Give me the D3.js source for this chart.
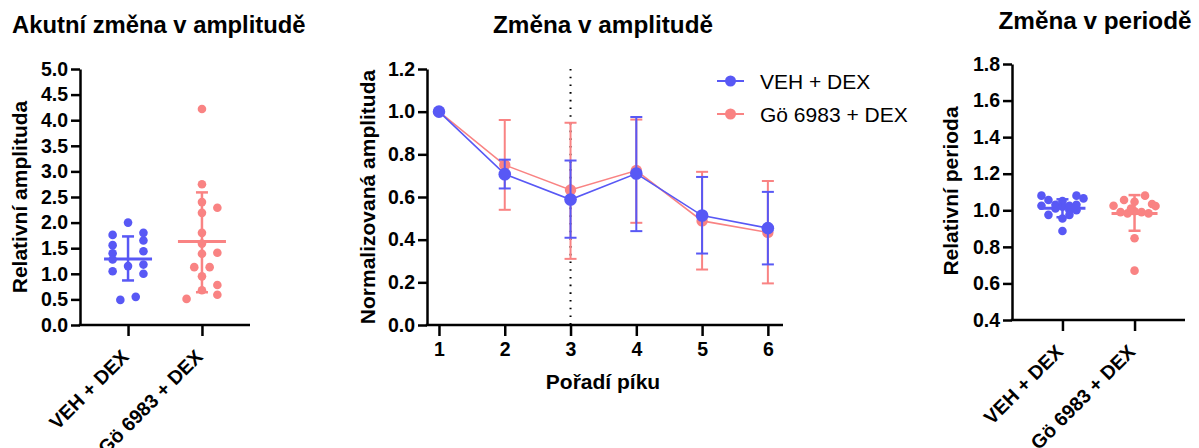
<!DOCTYPE html>
<html>
<head>
<meta charset="utf-8">
<script src="https://cdn.jsdelivr.net/npm/d3@7"></script>
<style>
  html, body { margin: 0; padding: 0; background: #fff; }
  svg { display: block; }
  text { font-family: "Liberation Sans", Arial, sans-serif; fill: #000; }
</style>
</head>
<body>
<svg id="chart" width="1199" height="448"></svg>
<script>
// ---------- DATA ----------
const groupLabels = ["VEH + DEX", "Gö 6983 + DEX"];

// Panel 1: Akutní změna v amplitudě
const ampVeh      = [2.00, 1.76, 1.80, 1.56, 1.65, 1.40, 1.44, 1.28, 1.15, 1.18, 1.05, 1.00, 0.49, 0.55];
const ampVehSlot  = [0, -2, 2, -2, 2, -2, 2, -2, 0, 2, -2, 2, -1, 1];
const ampGo       = [4.22, 2.75, 2.40, 2.19, 2.29, 1.80, 1.59, 1.39, 1.41, 1.13, 1.13, 0.95, 0.68, 0.78, 0.51, 0.59];
const ampGoSlot   = [0, 0, 0, 0, 2, 0, 0, 0, 2, -1, 1, 0, 0, 2, -2, 2];
const ampMean     = [1.29, 1.63];
const ampErrLow   = [0.87, 0.64];
const ampErrHigh  = [1.73, 2.59];
const ampTicks    = [0, 0.5, 1, 1.5, 2, 2.5, 3, 3.5, 4, 4.5, 5];

// Panel 2: Změna v amplitudě
const peakOrder   = [1, 2, 3, 4, 5, 6];
const vehMean     = [1.000, 0.707, 0.588, 0.710, 0.513, 0.454];
const vehLow      = [1.000, 0.640, 0.409, 0.440, 0.335, 0.284];
const vehHigh     = [1.000, 0.775, 0.771, 0.975, 0.694, 0.624];
const goMean      = [1.000, 0.750, 0.633, 0.724, 0.488, 0.434];
const goLow       = [1.000, 0.540, 0.310, 0.479, 0.260, 0.195];
const goHigh      = [1.000, 0.961, 0.948, 0.963, 0.718, 0.675];
const normTicks   = [0, 0.2, 0.4, 0.6, 0.8, 1.0, 1.2];
const markerPeak  = 3;

// Panel 3: Změna v periodě
const perVeh      = [1.080, 1.056, 1.025, 0.975, 1.010, 1.030, 1.050, 1.020, 0.955, 1.000, 1.025, 0.975, 1.080, 1.000, 1.030, 1.065, 0.887];
const perVehSlot  = [-3, -2, -3, -2, -1, -1, 0, 0, 0, 1, 1, 1, 2, 2, 2, 3, 0];
const perGo       = [1.025, 1.056, 1.047, 1.080, 1.034, 1.023, 0.990, 0.983, 0.995, 0.990, 0.983, 1.010, 0.847, 0.670];
const perGoSlot   = [-3, -1.5, 0, 1.5, 2.5, 3, -2, -1, 0, 1, 2, -0.5, 0, 0];
const perMean     = [1.011, 0.983];
const perErrLow   = [0.962, 0.888];
const perErrHigh  = [1.060, 1.083];
const perTicks    = [0.4, 0.6, 0.8, 1.0, 1.2, 1.4, 1.6, 1.8];

// ---------- STYLE ----------
const BLUE = "#5858F5";
const RED  = "#F98383";
const colors = [BLUE, RED];
const svg = d3.select("#chart");
svg.append("rect").attr("width", 1199).attr("height", 448).attr("fill", "#fff");

function styleAxis(g) {
  g.selectAll("path.domain").attr("stroke", "#000").attr("stroke-width", 2.5);
  g.selectAll(".tick line").attr("stroke", "#000").attr("stroke-width", 2.5);
  g.selectAll(".tick text").attr("font-size", 19.5).attr("font-weight", "bold")
    .attr("font-family", "Liberation Sans, Arial, sans-serif").attr("fill", "#000");
}

function title(x, y, txt, anchor, size) {
  svg.append("text").attr("x", x).attr("y", y).attr("text-anchor", anchor || "middle")
    .attr("font-size", size || 24).attr("font-weight", "bold").text(txt);
}
function yTitle(x, y, txt) {
  svg.append("text").attr("transform", `translate(${x},${y}) rotate(-90)`)
    .attr("text-anchor", "middle").attr("font-size", 21).attr("font-weight", "bold").text(txt);
}

// Generic scatter-dot panel
function dotPanel(cfg) {
  const y = d3.scaleLinear().domain(cfg.yDomain).range([cfg.y0, cfg.y1]);
  const x = d3.scalePoint().domain(groupLabels).range([cfg.xLeft, cfg.xRight]).padding(cfg.pad);
  const g = svg.append("g");

  const ya = g.append("g").attr("transform", `translate(${cfg.xLeft},0)`)
    .call(d3.axisLeft(y).tickValues(cfg.ticks).tickFormat(d3.format(".1f")).tickSize(9).tickPadding(3).tickSizeOuter(0));
  styleAxis(ya);
  const xa = g.append("g").attr("transform", `translate(0,${cfg.y0})`)
    .call(d3.axisBottom(x).tickSize(11).tickSizeOuter(0).tickFormat(""));
  styleAxis(xa);
  xa.select("path.domain").attr("d", `M${cfg.xLeft - 1.25},0H${cfg.xRight}`);

  g.selectAll("text.cat").data(groupLabels).join("text").attr("class", "cat")
    .attr("transform", d => `translate(${x(d) + 2},${cfg.y0 + 33}) rotate(-45)`)
    .attr("text-anchor", "end").attr("font-size", 19.5).attr("font-weight", "bold").text(d => d);

  const sets = [
    { vals: cfg.a, slots: cfg.aSlot, i: 0 },
    { vals: cfg.b, slots: cfg.bSlot, i: 1 }
  ];
  sets.forEach(s => {
    const cx = x(groupLabels[s.i]);
    g.append("g").selectAll("circle").data(s.vals).join("circle")
      .attr("cx", (d, k) => cx + s.slots[k] * cfg.slotW)
      .attr("cy", d => y(d)).attr("r", 4.3).attr("fill", colors[s.i]);
  });
  sets.forEach(s => {
    const cx = x(groupLabels[s.i]);
    const c = colors[s.i];
    const lo = y(cfg.low[s.i]), hi = y(cfg.high[s.i]), m = y(cfg.mean[s.i]);
    g.append("line").attr("x1", cx).attr("x2", cx).attr("y1", lo).attr("y2", hi).attr("stroke", c).attr("stroke-width", 2.5);
    g.append("line").attr("x1", cx - 6).attr("x2", cx + 6).attr("y1", lo).attr("y2", lo).attr("stroke", c).attr("stroke-width", 2.5);
    g.append("line").attr("x1", cx - 6).attr("x2", cx + 6).attr("y1", hi).attr("y2", hi).attr("stroke", c).attr("stroke-width", 2.5);
    g.append("line").attr("x1", cx - cfg.meanHalf).attr("x2", cx + cfg.meanHalf).attr("y1", m).attr("y2", m).attr("stroke", c).attr("stroke-width", 3);
  });
}

// ---------- PANEL 1 ----------
title(12, 33, "Akutní změna v amplitudě", "start", 23.8);
yTitle(27, 197, "Relativní amplituda");
dotPanel({
  yDomain: [0, 5], y0: 325, y1: 69, ticks: ampTicks,
  xLeft: 80, xRight: 250, pad: 0.65,
  a: ampVeh, aSlot: ampVehSlot, b: ampGo, bSlot: ampGoSlot,
  mean: ampMean, low: ampErrLow, high: ampErrHigh,
  slotW: 7.7, meanHalf: 24
});

// ---------- PANEL 3 ----------
title(1095, 29, "Změna v periodě", "middle", 24.3);
yTitle(958, 191, "Relativní perioda");
dotPanel({
  yDomain: [0.4, 1.8], y0: 320, y1: 64, ticks: perTicks,
  xLeft: 1012, xRight: 1185, pad: 0.7,
  a: perVeh, aSlot: perVehSlot, b: perGo, bSlot: perGoSlot,
  mean: perMean, low: perErrLow, high: perErrHigh,
  slotW: 7, meanHalf: 23
});

// ---------- PANEL 2 ----------
(function () {
  const left = 427, right = 783, y0 = 325, y1 = 69;
  const x = d3.scaleLinear().domain([0.818, 6.23]).range([left, right]);
  const y = d3.scaleLinear().domain([0, 1.2]).range([y0, y1]);
  const g = svg.append("g");

  title(603, 33, "Změna v amplitudě", "middle", 24.3);
  yTitle(375, 197, "Normalizovaná amplituda");
  g.append("text").attr("x", 603).attr("y", 389).attr("text-anchor", "middle")
    .attr("font-size", 21).attr("font-weight", "bold").text("Pořadí píku");

  g.append("line").attr("x1", x(markerPeak)).attr("x2", x(markerPeak)).attr("y1", y(1.2)).attr("y2", y(0))
    .attr("stroke", "#000").attr("stroke-width", 2).attr("stroke-dasharray", "1.6,6.1");

  const ya = g.append("g").attr("transform", `translate(${left},0)`)
    .call(d3.axisLeft(y).tickValues(normTicks).tickFormat(d3.format(".1f")).tickSize(9).tickPadding(3).tickSizeOuter(0));
  styleAxis(ya);
  const xa = g.append("g").attr("transform", `translate(0,${y0})`)
    .call(d3.axisBottom(x).tickValues(peakOrder).tickFormat(d3.format("d")).tickSize(11).tickPadding(6).tickSizeOuter(0));
  styleAxis(xa);
  xa.select("path.domain").attr("d", `M${left - 1.25},0H${right}`);

  const series = [
    { mean: goMean, low: goLow, high: goHigh, c: RED, r: 5.7 },
    { mean: vehMean, low: vehLow, high: vehHigh, c: BLUE, r: 6.3 }
  ];
  const line = d3.line().x((d, i) => x(peakOrder[i])).y(d => y(d));
  series.forEach(s => {
    const sg = g.append("g");
    sg.append("path").datum(s.mean).attr("d", line).attr("fill", "none").attr("stroke", s.c).attr("stroke-width", 1.6);
    peakOrder.forEach((p, i) => {
      if (s.high[i] === s.low[i]) return;
      const cx = x(p);
      sg.append("line").attr("x1", cx).attr("x2", cx).attr("y1", y(s.low[i])).attr("y2", y(s.high[i])).attr("stroke", s.c).attr("stroke-width", 2);
      [s.low[i], s.high[i]].forEach(v => {
        sg.append("line").attr("x1", cx - 6).attr("x2", cx + 6).attr("y1", y(v)).attr("y2", y(v)).attr("stroke", s.c).attr("stroke-width", 2);
      });
    });
    sg.selectAll("circle").data(s.mean).join("circle")
      .attr("cx", (d, i) => x(peakOrder[i])).attr("cy", d => y(d)).attr("r", s.r).attr("fill", s.c);
  });

  const leg = [{ label: groupLabels[0], c: BLUE, yy: 81 }, { label: groupLabels[1], c: RED, yy: 114 }];
  leg.forEach(l => {
    g.append("line").attr("x1", 717).attr("x2", 744).attr("y1", l.yy).attr("y2", l.yy).attr("stroke", l.c).attr("stroke-width", 2);
    g.append("circle").attr("cx", 730.5).attr("cy", l.yy).attr("r", 5.5).attr("fill", l.c);
    g.append("text").attr("x", 760).attr("y", l.yy + 7.5).attr("font-size", 21).text(l.label);
  });
})();
</script>
</body>
</html>
